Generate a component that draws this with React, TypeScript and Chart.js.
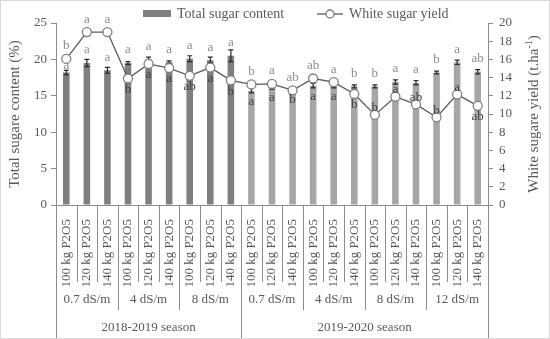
import React, { useEffect, useRef } from 'react';
import { Chart, registerables } from 'chart.js';
Chart.register(...registerables);

const P_LEVELS = ['100 kg P2O5', '120 kg P2O5', '140 kg P2O5'];
const SALINITY_S1 = ['0.7 dS/m', '4 dS/m', '8 dS/m'];
const SALINITY_S2 = ['0.7 dS/m', '4 dS/m', '8 dS/m', '12 dS/m'];
const SEASONS = ['2018-2019 season', '2019-2020 season'];

const SUGAR = [18.2, 19.5, 18.5, 19.5, 20.0, 19.6, 20.1, 19.9, 20.5, 15.7, 16.2, 16.0, 16.4, 16.4, 16.3, 16.3, 16.9, 16.8, 18.2, 19.6, 18.3];
const SUGAR_ERR = [0.3, 0.5, 0.4, 0.2, 0.3, 0.2, 0.4, 0.4, 0.8, 0.3, 0.3, 0.2, 0.3, 0.3, 0.2, 0.2, 0.3, 0.3, 0.2, 0.3, 0.3];
const YIELD = [16.05, 19.0, 19.0, 13.9, 15.5, 15.05, 14.2, 15.1, 13.7, 13.25, 13.3, 12.6, 13.9, 13.5, 12.2, 9.9, 11.9, 11.05, 9.65, 12.15, 10.9];

const BAR_LETTERS = ['a', 'a', 'a', 'a', 'a', 'a', 'a', 'a', 'a', 'a', 'a', 'b', 'a', 'a', 'b', 'b', 'a', 'a', 'b', 'a', 'ab'];
const BAR_SIDE = ['near', 'up', 'up', 'up', 'up', 'up', 'up', 'up', 'up', 'down', 'down', 'down', 'down', 'down', 'up', 'up', 'up', 'up', 'up', 'up', 'up'];
const YIELD_LETTERS = ['b', 'a', 'a', 'b', 'a', 'a', 'ab', 'a', 'b', 'b', 'a', 'ab', 'ab', 'a', 'b', 'b', 'a', 'ab', 'b', 'a', 'ab'];
const YIELD_SIDE = ['up', 'up', 'up', 'down', 'down', 'down', 'down', 'down', 'down', 'up', 'up', 'up', 'up', 'up', 'down', 'near', 'near', 'near', 'near', 'near', 'down'];

const FONT = '"Liberation Serif", "Times New Roman", serif';
const GROUPS = [SALINITY_S1, SALINITY_S2];
const CATEGORIES: string[] = [];
const SEASON_OF: number[] = [];
GROUPS.forEach((g, s) => g.forEach(() => P_LEVELS.forEach((p) => { CATEGORIES.push(p); SEASON_OF.push(s); })));

const BAR_COLORS = SEASON_OF.map((s) => (s === 0 ? '#7f7f7f' : '#a6a6a6'));
const AXIS_COLOR = '#8c8c8c';
const TEXT_COLOR = '#595959';
const SIDE_OFFSET: Record<string, number> = { up: -13, down: 11, near: -7 };

const decor = {
  id: 'decor',
  afterDatasetDraw(chart: any, args: any) {
    if (args.index !== 1) return;
    const ctx = chart.ctx;
    const x = chart.scales.x;
    const y = chart.scales.y;
    ctx.save();
    ctx.strokeStyle = '#262626';
    ctx.lineWidth = 1.2;
    SUGAR.forEach((v, i) => {
      const cx = x.getPixelForValue(i);
      const yt = y.getPixelForValue(v + SUGAR_ERR[i]);
      const yb = y.getPixelForValue(v - SUGAR_ERR[i]);
      ctx.beginPath();
      ctx.moveTo(cx, yt); ctx.lineTo(cx, yb);
      ctx.moveTo(cx - 2.5, yt); ctx.lineTo(cx + 2.5, yt);
      ctx.moveTo(cx - 2.5, yb); ctx.lineTo(cx + 2.5, yb);
      ctx.stroke();
    });
    ctx.restore();
  },
  afterDraw(chart: any) {
    const ctx = chart.ctx;
    const x = chart.scales.x;
    const y = chart.scales.y;
    const y2 = chart.scales.y2;
    const H = chart.height;
    const W = chart.width;
    const step = x.getPixelForValue(1) - x.getPixelForValue(0);
    const edge = (b: number) => x.getPixelForValue(b) - step / 2;
    const top = x.top;
    ctx.save();
    // separators
    const groupBounds = new Set<number>();
    const seasonBounds = new Set<number>([0]);
    let c = 0;
    GROUPS.forEach((g) => { g.forEach(() => { groupBounds.add(c); c += P_LEVELS.length; groupBounds.add(c); }); seasonBounds.add(c); });
    ctx.strokeStyle = AXIS_COLOR;
    ctx.lineWidth = 1;
    for (let b = 0; b <= CATEGORIES.length; b++) {
      const px = Math.round(edge(b)) + 0.5;
      let bottom = top + 77;
      if (seasonBounds.has(b)) bottom = H;
      else if (groupBounds.has(b)) bottom = top + 105;
      ctx.beginPath(); ctx.moveTo(px, top); ctx.lineTo(px, bottom); ctx.stroke();
    }
    // group labels
    ctx.fillStyle = TEXT_COLOR;
    ctx.font = `13px ${FONT}`;
    ctx.textAlign = 'center';
    ctx.textBaseline = 'middle';
    let start = 0;
    GROUPS.forEach((g, s) => {
      const sStart = start;
      g.forEach((lab) => {
        const mid = (edge(start) + edge(start + P_LEVELS.length)) / 2;
        ctx.fillText(lab, mid, top + 95);
        start += P_LEVELS.length;
      });
      ctx.fillText(SEASONS[s], (edge(sStart) + edge(start)) / 2, top + 123);
    });
    // letters
    ctx.font = `13px ${FONT}`;
    const drawLetter = (t: string, cx: number, cy: number, barTop: number) => {
      ctx.fillStyle = cy > barTop ? '#404040' : '#8c8c8c';
      ctx.fillText(t, cx, cy);
    };
    SUGAR.forEach((v, i) => {
      const cx = x.getPixelForValue(i);
      const bt = y.getPixelForValue(v);
      const pt = y2.getPixelForValue(YIELD[i]);
      drawLetter(BAR_LETTERS[i], cx, bt + SIDE_OFFSET[BAR_SIDE[i]], bt);
      drawLetter(YIELD_LETTERS[i], cx, pt + SIDE_OFFSET[YIELD_SIDE[i]], bt);
    });
    // legend
    ctx.font = `14px ${FONT}`;
    ctx.textAlign = 'left';
    ctx.fillStyle = '#7f7f7f';
    ctx.fillRect(143, 10, 28, 7);
    ctx.fillStyle = TEXT_COLOR;
    ctx.fillText('Total sugar content', 177, 14);
    ctx.strokeStyle = '#595959';
    ctx.lineWidth = 1.3;
    ctx.beginPath(); ctx.moveTo(317, 14); ctx.lineTo(343, 14); ctx.stroke();
    ctx.beginPath(); ctx.arc(330, 14, 4, 0, Math.PI * 2);
    ctx.fillStyle = '#ffffff'; ctx.fill(); ctx.strokeStyle = '#7f7f7f'; ctx.stroke();
    ctx.fillStyle = TEXT_COLOR;
    ctx.fillText('White sugar yield', 349, 14);
    // axis titles
    const midY = (chart.chartArea.top + chart.chartArea.bottom) / 2;
    ctx.font = `15px ${FONT}`;
    ctx.textAlign = 'center';
    ctx.save();
    ctx.translate(15, midY);
    ctx.rotate(-Math.PI / 2);
    ctx.fillText('Total sugare content (%)', 0, 0);
    ctx.restore();
    ctx.save();
    ctx.translate(534, midY);
    ctx.rotate(-Math.PI / 2);
    const main = 'White sugare yield (t.ha';
    ctx.font = `15px ${FONT}`;
    const wMain = ctx.measureText(main).width;
    ctx.font = `10px ${FONT}`;
    const wSup = ctx.measureText('-1').width;
    ctx.font = `15px ${FONT}`;
    const wEnd = ctx.measureText(')').width;
    let sx = -(wMain + wSup + wEnd) / 2;
    ctx.textAlign = 'left';
    ctx.fillText(main, sx, 0); sx += wMain;
    ctx.font = `10px ${FONT}`;
    ctx.fillText('-1', sx, -5); sx += wSup;
    ctx.font = `15px ${FONT}`;
    ctx.fillText(')', sx, 0);
    ctx.restore();
    // frame
    ctx.strokeStyle = '#d9d9d9';
    ctx.lineWidth = 1;
    ctx.strokeRect(0.5, 0.5, W - 1, H - 1);
    ctx.restore();
  },
};

export default function App() {
  const ref = useRef<HTMLCanvasElement | null>(null);
  useEffect(() => {
    document.body.style.margin = '0';
    const canvas = ref.current;
    if (!canvas) return;
    const tickFont = { family: FONT, size: 13 };
    const chart = new Chart(canvas, {
      data: {
        labels: CATEGORIES,
        datasets: [
          {
            type: 'line',
            label: 'White sugar yield',
            data: YIELD,
            yAxisID: 'y2',
            borderColor: '#595959',
            borderWidth: 1.3,
            pointRadius: 4.5,
            pointBackgroundColor: '#ffffff',
            pointBorderColor: '#7f7f7f',
            pointBorderWidth: 1.3,
            order: 0,
          },
          {
            type: 'bar',
            label: 'Total sugar content',
            data: SUGAR,
            yAxisID: 'y',
            backgroundColor: BAR_COLORS,
            barPercentage: 0.32,
            categoryPercentage: 1,
            order: 1,
          },
        ],
      } as any,
      options: {
        responsive: false,
        animation: false,
        events: [],
        layout: { padding: { top: 23, left: 0, right: 0, bottom: 0 } },
        plugins: { legend: { display: false }, tooltip: { enabled: false } },
        scales: {
          x: {
            type: 'category',
            grid: { display: false },
            border: { display: true, color: AXIS_COLOR },
            ticks: { minRotation: 90, maxRotation: 90, autoSkip: false, font: tickFont, color: TEXT_COLOR, padding: 6 },
            afterFit: (s: any) => { s.height = 134; },
          },
          y: {
            position: 'left',
            min: 0,
            max: 25,
            ticks: { stepSize: 5, autoSkip: false, font: tickFont, color: TEXT_COLOR, padding: 4 },
            grid: { drawOnChartArea: false, tickLength: 5, color: AXIS_COLOR },
            border: { color: AXIS_COLOR },
            afterFit: (s: any) => { s.width = 56; },
          },
          y2: {
            position: 'right',
            min: 0,
            max: 20,
            ticks: { stepSize: 2, autoSkip: false, font: tickFont, color: TEXT_COLOR, padding: 6 },
            grid: { drawOnChartArea: false, tickLength: 5, color: AXIS_COLOR },
            border: { color: AXIS_COLOR },
            afterFit: (s: any) => { s.width = 62; },
          },
        },
      } as any,
      plugins: [decor],
    });
    return () => chart.destroy();
  }, []);
  return (
    <div style={{ width: 550, height: 339, background: '#ffffff' }}>
      <canvas ref={ref} width={550} height={339} />
    </div>
  );
}
